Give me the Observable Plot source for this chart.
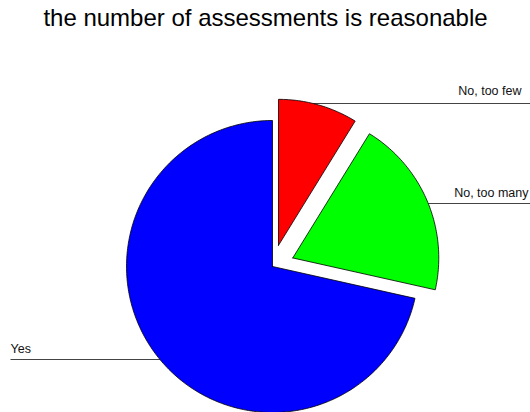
<!DOCTYPE html>
<html><head><meta charset="utf-8">
<script src="https://cdn.jsdelivr.net/npm/d3@7"></script>
<script src="https://cdn.jsdelivr.net/npm/@observablehq/plot@0.6"></script>
<style>
body{margin:0;background:#fff;width:530px;height:412px;overflow:hidden;font-family:"Liberation Sans",Arial,sans-serif}
#title{height:34px;padding-top:6px;font-size:24px;line-height:24px;text-align:center;color:#000;width:531px;white-space:nowrap}
#chart svg{display:block}
</style></head><body>
<div id="title">the number of assessments is reasonable</div>
<div id="chart"></div>
<script>
// data
const categories = ["No, too few", "No, too many", "Yes"];
const values = [8.8, 19.7, 71.5];
const colors = ["#ff0000", "#00ff00", "#0000ff"];

// layout (page pixels)
const W = 530, H = 372, TOP = 40;
const cx = 272, cy = 266, R = 146;
const explodePx = [22, 22, 0];

const arcs = d3.pie().sort(null).startAngle(0).endAngle(2 * Math.PI)(values);
const slices = arcs.map((a, i) => {
  const m = (a.startAngle + a.endAngle) / 2;
  const e = explodePx[i] / R;
  return {cat: categories[i], a0: a.startAngle, a1: a.endAngle, ox: e * Math.sin(m), oy: e * Math.cos(m)};
});
const pts = [];
for (const s of slices) {
  pts.push({cat: s.cat, x: s.ox, y: s.oy});
  const n = Math.max(2, Math.ceil((s.a1 - s.a0) / (Math.PI / 180)));
  for (let k = 0; k <= n; k++) {
    const t = s.a0 + (s.a1 - s.a0) * k / n;
    pts.push({cat: s.cat, x: s.ox + Math.sin(t), y: s.oy + Math.cos(t)});
  }
  pts.push({cat: s.cat, x: s.ox, y: s.oy});
}
const U = px => (px - cx) / R;      // page x -> unit
const V = py => (cy - py) / R;      // page y -> unit
function arcX(i, py, side) {
  const s = slices[i], v = V(py);
  return s.ox + side * Math.sqrt(Math.max(0, 1 - (v - s.oy) ** 2));
}
const labels = [
  {text: categories[0], lx1: arcX(0, 103, 1), lx2: U(530), ly: V(103), tx: U(521), ty: V(94), anchor: "end"},
  {text: categories[1], lx1: arcX(1, 203, 1), lx2: U(530), ly: V(203), tx: U(528), ty: V(196), anchor: "end"},
  {text: categories[2], lx1: U(10), lx2: arcX(2, 359, -1), ly: V(359), tx: U(10), ty: V(352), anchor: "start"}
];

const chart = Plot.plot({
  width: W, height: H,
  margin: 0,
  x: {domain: [U(0), U(W)], range: [0, W], axis: null},
  y: {domain: [V(TOP + H), V(TOP)], range: [H, 0], axis: null},
  color: {domain: categories, range: colors, type: "ordinal"},
  style: {fontFamily: "'Liberation Sans', Arial, sans-serif", background: "#fff"},
  marks: [
    Plot.link(labels, {x1: "lx1", x2: "lx2", y1: "ly", y2: "ly", stroke: "#444", strokeWidth: 1.2}),
    Plot.line(pts, {x: "x", y: "y", z: "cat", fill: "cat", stroke: "#000", strokeWidth: 0.8, curve: "linear"}),
    Plot.text(labels, {x: "tx", y: "ty", text: "text", textAnchor: "start", lineAnchor: "bottom", fontSize: 12.5, fill: "#111",
      filter: d => d.anchor === "start"}),
    Plot.text(labels, {x: "tx", y: "ty", text: "text", textAnchor: "end", lineAnchor: "bottom", fontSize: 12.5, fill: "#111",
      filter: d => d.anchor === "end"})
  ]
});
document.getElementById("chart").appendChild(chart);
</script>
</body></html>
